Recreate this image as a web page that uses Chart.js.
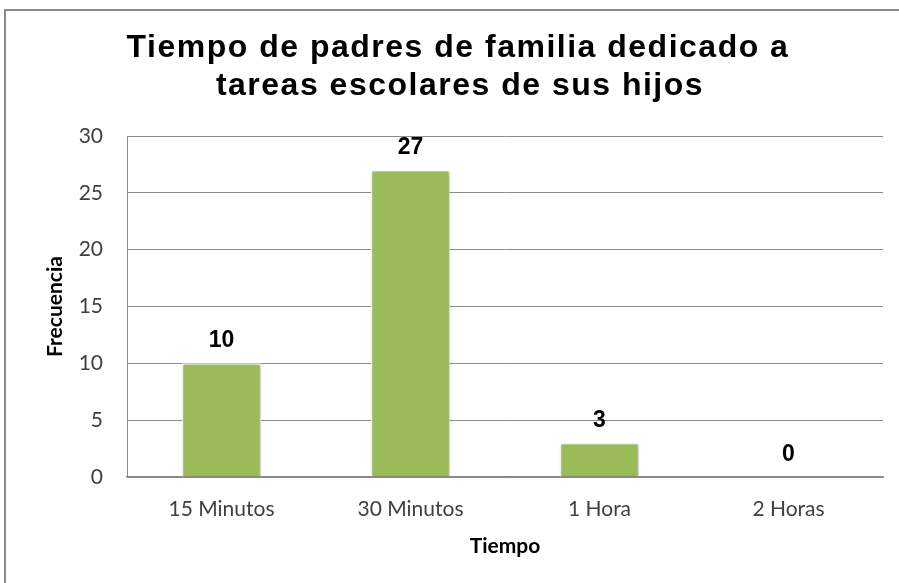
<!DOCTYPE html>
<html>
<head>
<meta charset="utf-8">
<script src="https://cdn.jsdelivr.net/npm/chart.js@4.4.1/dist/chart.umd.min.js"></script>
<style>
  html, body { margin: 0; padding: 0; background: #ffffff; }
  #wrap { position: relative; width: 899px; height: 583px; }
</style>
</head>
<body>
<div id="wrap"><canvas id="c" width="899" height="583"></canvas></div>
<script>
const categories = ['15 Minutos', '30 Minutos', '1 Hora', '2 Horas'];
const frecuencia = [10, 27, 3, 0];
const yTicks = [0, 5, 10, 15, 20, 25, 30];
const titleLines = ['Tiempo de padres de familia dedicado a', 'tareas escolares de sus hijos'];
const xTitle = 'Tiempo';
const yTitle = 'Frecuencia';

const frame = {
  id: 'frame',
  beforeDraw(chart) {
    const ctx = chart.ctx;
    ctx.save();
    ctx.fillStyle = '#ffffff';
    ctx.fillRect(0, 0, chart.width, chart.height);
    ctx.strokeStyle = '#8a8a8a';
    ctx.lineWidth = 2;
    ctx.beginPath();
    ctx.moveTo(5, chart.height + 5);
    ctx.lineTo(5, 10);
    ctx.lineTo(chart.width + 5, 10);
    ctx.stroke();
    ctx.restore();
  },
  afterDraw(chart) {
    const ctx = chart.ctx;
    ctx.save();
    ctx.font = 'bold 32px "Liberation Sans", Arial, sans-serif';
    ctx.fillStyle = '#000000';
    ctx.textAlign = 'center';
    ctx.textBaseline = 'alphabetic';
    try { ctx.letterSpacing = '1.5px'; } catch (e) {}
    ctx.fillText(titleLines[0], 458, 57);
    ctx.fillText(titleLines[1], 460, 95);
    ctx.restore();
  }
};

const shadow = {
  id: 'shadow',
  beforeDatasetDraw(chart) {
    const ctx = chart.ctx;
    ctx.save();
    ctx.shadowColor = 'rgba(0,0,0,0.28)';
    ctx.shadowBlur = 4;
    ctx.shadowOffsetX = 1;
    ctx.shadowOffsetY = 1;
  },
  afterDatasetDraw(chart) {
    chart.ctx.restore();
  }
};

const valueLabels = {
  id: 'valueLabels',
  afterDatasetsDraw(chart) {
    const ctx = chart.ctx;
    const meta = chart.getDatasetMeta(0);
    ctx.save();
    ctx.font = 'bold 23px "Liberation Sans", Arial, sans-serif';
    ctx.fillStyle = '#000000';
    ctx.textAlign = 'center';
    ctx.textBaseline = 'alphabetic';
    meta.data.forEach((bar, i) => {
      ctx.fillText(String(frecuencia[i]), bar.x, bar.y - 16);
    });
    ctx.restore();
  }
};

new Chart(document.getElementById('c'), {
  type: 'bar',
  data: {
    labels: categories,
    datasets: [{
      data: frecuencia,
      backgroundColor: '#9bbb59',
      borderColor: '#ffffff',
      borderWidth: 1.5,
      barPercentage: 0.42,
      categoryPercentage: 1.0
    }]
  },
  options: {
    responsive: false,
    animation: false,
    devicePixelRatio: 1,
    layout: { padding: { left: 0, right: 16, top: 136, bottom: 0 } },
    plugins: {
      legend: { display: false },
      tooltip: { enabled: false },
      title: { display: false }
    },
    scales: {
      x: {
        grid: { display: false, drawTicks: false },
        border: { display: true, color: '#8a8a8a', width: 1.5 },
        ticks: { color: '#404040', font: { family: 'Lato, "Open Sans", sans-serif', size: 21 }, padding: 20, maxRotation: 0 },
        title: { display: true, text: xTitle, color: '#000000', font: { family: 'Lato, "Open Sans", sans-serif', size: 21, weight: 'bold' }, padding: { top: 0, bottom: 24 } },
        afterFit(scale) { scale.height = 106; }
      },
      y: {
        min: 0,
        max: 30,
        afterBuildTicks(scale) { scale.ticks = yTicks.map(v => ({ value: v })); },
        grid: { color: '#8a8a8a', lineWidth: 1, drawTicks: false },
        border: { display: true, color: '#8a8a8a', width: 1 },
        ticks: { color: '#404040', font: { family: 'Lato, "Open Sans", sans-serif', size: 21 }, padding: 24 },
        title: { display: true, text: yTitle, color: '#000000', font: { family: 'Lato, "Open Sans", sans-serif', size: 21, weight: 'bold' }, padding: { top: 43, bottom: 0 } },
        afterFit(scale) { scale.width = 127; }
      }
    }
  },
  plugins: [frame, shadow, valueLabels]
});
</script>
</body>
</html>
